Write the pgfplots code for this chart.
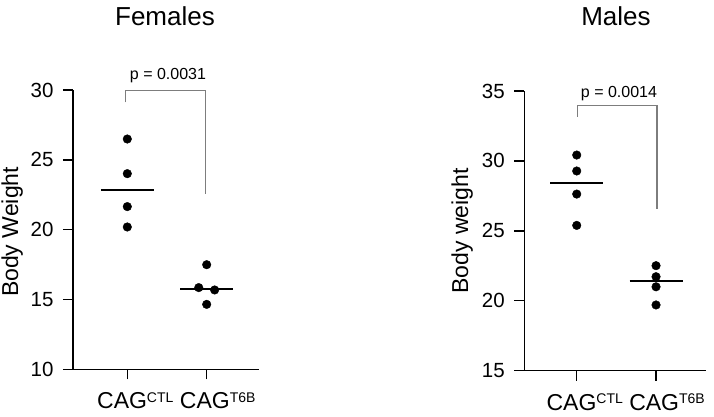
\documentclass[border=0pt]{standalone}
\usepackage{fontspec}
\setmainfont{Liberation Sans}
\usepackage{pgfplots}
\pgfplotsset{compat=1.18}
\definecolor{brk}{RGB}{125,125,125}
\newcommand\lbl[1]{CAG\raisebox{6.5pt}{\fontsize{14}{14}\selectfont #1}}
\begin{document}
\begin{tikzpicture}[x=1pt,y=1pt]
\useasboundingbox (0pt,0pt) rectangle (714pt,417pt);
\pgfplotsset{
 myax/.style={
  scale only axis, axis lines*=left,
  axis line style={line width=1.4pt, black},
  tick align=outside, major tick length=10pt,
  tick style={line width=1.4pt, black},
  xtick={1,2}, xticklabels={\lbl{CTL},\hspace*{6pt}\lbl{T6B}},
  yticklabel style={font=\fontsize{20.5}{20.5}\selectfont, xshift=-6pt},
  xticklabel style={font=\fontsize{23}{23}\selectfont, xshift=8pt, yshift=-12pt, inner sep=1pt},
  /pgf/number format/assume math mode=true,
  clip=false,
 }
}
\begin{axis}[myax, at={(73pt,47.7pt)}, anchor=south west, width=186pt, height=279.3pt,
  xmin=0.316, xmax=2.659, ymin=10, ymax=30, ytick={10,15,20,25,30}]
\addplot[only marks, mark=*, mark size=4.3pt, black] coordinates {(1,26.49)(1,24.01)(1,21.65)(1,20.19)(2,17.49)(1.9,15.85)(2.1,15.68)(2,14.65)};
\addplot[black, line width=1.6pt] coordinates {(0.666,22.84)(1.334,22.84)};
\addplot[black, line width=1.6pt] coordinates {(1.666,15.75)(2.334,15.75)};
\addplot[brk, line width=1.2pt] coordinates {(0.975,29.12)(0.975,29.95)(1.984,29.95)(1.984,22.53)};
\end{axis}
\begin{axis}[myax, at={(524.3pt,46.3pt)}, anchor=south west, width=181.7pt, height=279.7pt,
  xmin=0.339, xmax=2.63, ymin=15, ymax=35, ytick={15,20,25,30,35}]
\addplot[only marks, mark=*, mark size=4.3pt, black] coordinates {(1,30.42)(1,29.28)(1,27.63)(1,25.39)(2,22.51)(2,21.72)(2,21.0)(2,19.70)};
\addplot[black, line width=1.6pt] coordinates {(0.666,28.44)(1.334,28.44)};
\addplot[black, line width=1.6pt] coordinates {(1.666,21.41)(2.334,21.41)};
\addplot[brk, line width=1.2pt] coordinates {(1.008,33.16)(1.008,33.97)(2.013,33.97)(2.013,26.59)};
\end{axis}
\node[anchor=base, font=\fontsize{26}{26}\selectfont] at (165pt,391pt) {Females};
\node[anchor=base, font=\fontsize{26}{26}\selectfont] at (616pt,391pt) {Males};
\node[anchor=base, font=\fontsize{16}{16}\selectfont] at (168pt,337pt) {p = 0.0031};
\node[anchor=base, font=\fontsize{16}{16}\selectfont] at (619pt,319.7pt) {p = 0.0014};
\node[anchor=base, rotate=90, font=\fontsize{23}{23}\selectfont] at (18pt,185pt) {Body Weight};
\node[anchor=base, rotate=90, font=\fontsize{23}{23}\selectfont] at (468pt,186pt) {Body weight};
\end{tikzpicture}
\end{document}
